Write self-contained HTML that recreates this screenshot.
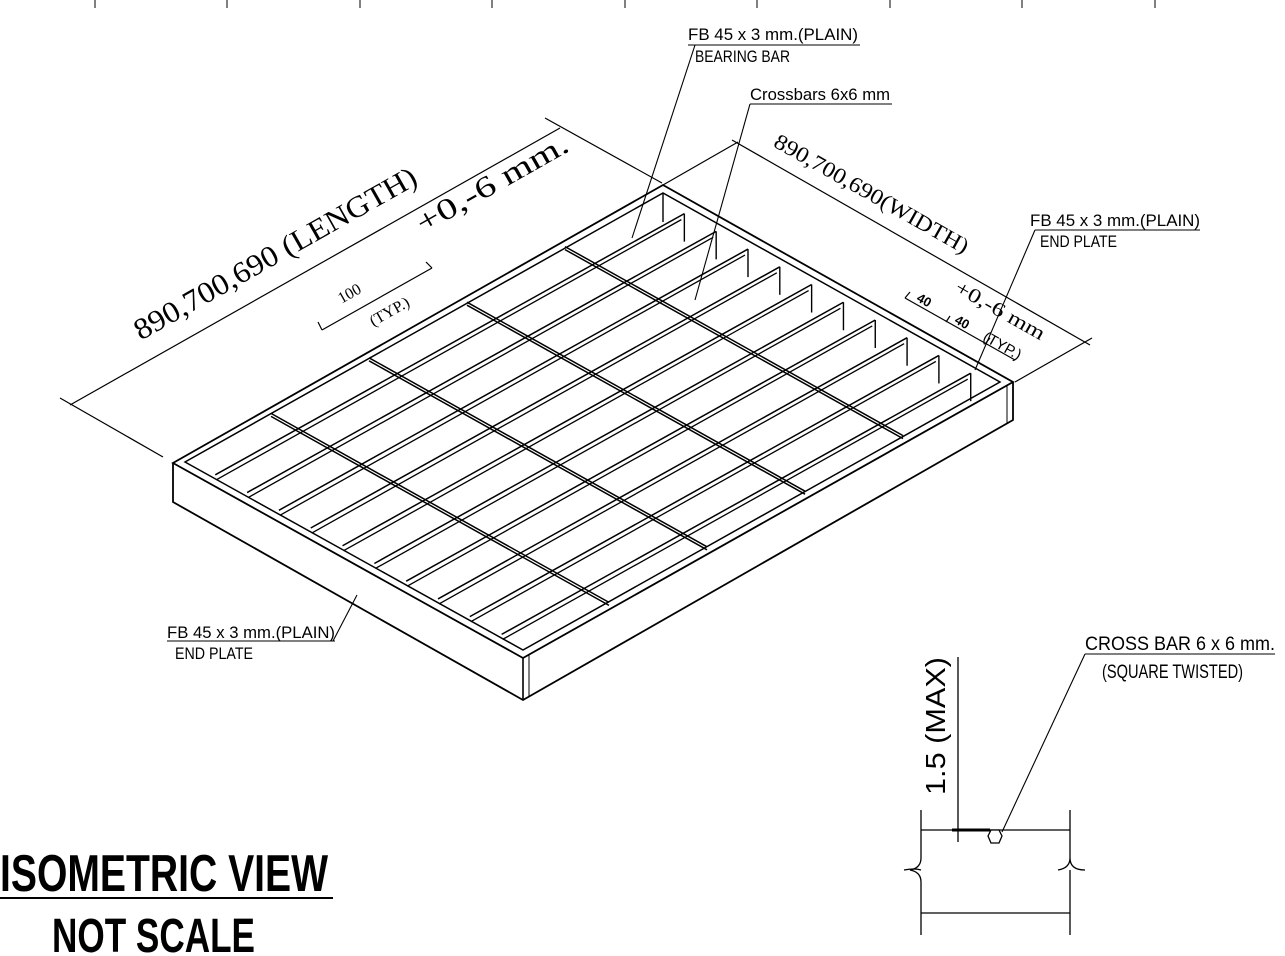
<!DOCTYPE html>
<html><head><meta charset="utf-8"><style>
html,body{margin:0;padding:0;background:#fff;}
svg{display:block;}
text{font-family:"Liberation Sans",sans-serif;fill:#000;stroke:none;}
.s{font-family:"Liberation Serif",serif;}
</style></head><body>
<svg id="d" width="1285" height="956" viewBox="0 0 1285 956" xmlns="http://www.w3.org/2000/svg" stroke="#000" fill="none" stroke-width="1.6">
<g id="ticks" stroke-width="1">
<line x1="95" y1="0" x2="95" y2="8"/><line x1="227" y1="0" x2="227" y2="8"/><line x1="360" y1="0" x2="360" y2="8"/><line x1="492" y1="0" x2="492" y2="8"/><line x1="625" y1="0" x2="625" y2="8"/><line x1="757" y1="0" x2="757" y2="8"/><line x1="890" y1="0" x2="890" y2="8"/><line x1="1022" y1="0" x2="1022" y2="8"/><line x1="1155" y1="0" x2="1155" y2="8"/>
</g>
<g id="grid"></g>
<polygon points="173,463 523,658 1013,382 663,185" stroke-width="1.8"/>
<polyline points="173,463 173,502 523,700 1013,420 1013,382" stroke-width="1.8"/>
<line x1="523" y1="658" x2="523" y2="700"/>
<line x1="529" y1="655" x2="529" y2="697" stroke-width="1"/>
<line x1="1007" y1="385" x2="1007" y2="423" stroke-width="1"/>
<polygon points="185,462 523,650 1000,382 663,193" stroke-width="1.5"/>
<line x1="663" y1="193" x2="663" y2="222" stroke-width="1.4"/>
<g stroke-width="1.2">
<line x1="60" y1="398" x2="163" y2="457"/>
<line x1="545" y1="118" x2="662" y2="183"/>
<line x1="70" y1="405" x2="560" y2="128"/>
<line x1="732" y1="140" x2="1090" y2="345"/>
<line x1="663" y1="185" x2="738" y2="142"/>
<line x1="1015" y1="382" x2="1092" y2="338"/>
<line x1="322" y1="330" x2="432" y2="268"/>
<line x1="322" y1="330" x2="318" y2="322"/><line x1="432" y1="268" x2="426" y2="262"/>
<line x1="905" y1="298" x2="1015" y2="360"/>
<line x1="905" y1="298" x2="910" y2="292"/>
<line x1="946" y1="322" x2="950" y2="316"/>
<line x1="985" y1="344" x2="990" y2="338"/>
</g>
<text class="s" font-size="30" transform="translate(280,262) rotate(-29.5)" text-anchor="middle" textLength="320" lengthAdjust="spacingAndGlyphs">890,700,690  (LENGTH)</text>
<text class="s" font-size="30" transform="translate(497,192) rotate(-29.5)" text-anchor="middle" textLength="170" lengthAdjust="spacingAndGlyphs">+0,-6  mm.</text>
<text class="s" font-size="22" transform="translate(868,200) rotate(29.5)" text-anchor="middle" textLength="220" lengthAdjust="spacingAndGlyphs">890,700,690(WIDTH)</text>
<text class="s" font-size="20" transform="translate(997,316) rotate(29.5)" text-anchor="middle" textLength="100" lengthAdjust="spacingAndGlyphs">+0,-6 mm</text>
<text class="s" font-size="16" transform="translate(352,298) rotate(-29.5)" text-anchor="middle">100</text>
<text class="s" font-size="16" transform="translate(392,316) rotate(-29.5)" text-anchor="middle">(TYP.)</text>
<text font-size="13" font-weight="bold" transform="translate(922,304) rotate(29.5)" text-anchor="middle">40</text>
<text font-size="13" font-weight="bold" transform="translate(960,326) rotate(29.5)" text-anchor="middle">40</text>
<text font-size="15" transform="translate(1000,350) rotate(29.5)" text-anchor="middle">(TYP.)</text>
<g stroke-width="1.1">
<line x1="688" y1="45" x2="860" y2="45"/><line x1="695" y1="45" x2="632" y2="238"/>
<line x1="750" y1="104" x2="892" y2="104"/><line x1="750" y1="104" x2="695" y2="300"/>
<line x1="1035" y1="230" x2="1200" y2="230"/><line x1="1035" y1="230" x2="975" y2="370"/>
<line x1="167" y1="641" x2="335" y2="641"/><line x1="333" y1="641" x2="357" y2="595"/>
<line x1="1085" y1="654" x2="1275" y2="654"/><line x1="1085" y1="654" x2="1002" y2="832"/>
</g>
<text font-size="17" x="688" y="40" textLength="170" lengthAdjust="spacingAndGlyphs">FB 45 x 3 mm.(PLAIN)</text>
<text font-size="17" x="695" y="62" textLength="95" lengthAdjust="spacingAndGlyphs">BEARING BAR</text>
<text font-size="17" x="750" y="100" textLength="140" lengthAdjust="spacingAndGlyphs">Crossbars 6x6 mm</text>
<text font-size="17" x="1030" y="226" textLength="170" lengthAdjust="spacingAndGlyphs">FB 45 x 3 mm.(PLAIN)</text>
<text font-size="17" x="1040" y="247" textLength="77" lengthAdjust="spacingAndGlyphs">END PLATE</text>
<text font-size="17" x="167" y="638" textLength="168" lengthAdjust="spacingAndGlyphs">FB 45 x 3 mm.(PLAIN)</text>
<text font-size="17" x="175" y="659" textLength="78" lengthAdjust="spacingAndGlyphs">END PLATE</text>
<text font-size="19" x="1085" y="650" textLength="190" lengthAdjust="spacingAndGlyphs">CROSS BAR 6 x 6 mm.</text>
<text font-size="19" x="1102" y="678" textLength="141" lengthAdjust="spacingAndGlyphs">(SQUARE TWISTED)</text>
<g stroke-width="1.3">
<line x1="958" y1="657" x2="958" y2="842"/>
<line x1="921" y1="830" x2="1070" y2="830"/>
<line x1="952" y1="830" x2="990" y2="830" stroke-width="3"/>
<polygon points="988,836 991,830 999,830 1002,836 999,843 991,843" fill="#fff"/>
<path d="M921,810 V858 Q921,868 910,870 Q921,872 921,882 V935"/>
<path d="M1070,810 V858 Q1070,868 1058,870 M1070,858 Q1070,870 1085,870 M1070,870 V935"/>
<path d="M904,870 Q915,868 921,870"/>
<line x1="921" y1="913" x2="1070" y2="913"/>
</g>
<text font-size="28" transform="translate(945,726) rotate(-90)" text-anchor="middle" textLength="138" lengthAdjust="spacingAndGlyphs">1.5  (MAX)</text>
<text x="0" y="891" font-size="52" font-weight="bold" textLength="328" lengthAdjust="spacingAndGlyphs">ISOMETRIC VIEW</text>
<line x1="0" y1="898" x2="333" y2="898" stroke-width="2"/>
<text x="52" y="952" font-size="48" font-weight="bold" textLength="203" lengthAdjust="spacingAndGlyphs">NOT SCALE</text>
</svg>
<script>
(function(){
var g=document.getElementById('grid'),ns='http://www.w3.org/2000/svg';
function ln(a,b,c,d,w){var e=document.createElementNS(ns,'line');e.setAttribute('x1',a);e.setAttribute('y1',b);e.setAttribute('x2',c);e.setAttribute('y2',d);if(w)e.setAttribute('stroke-width',w);g.appendChild(e);}
var L=[173,463],F=[523,658],R=[1013,382],B=[663,185];
var fr=[R[0]-F[0],R[1]-F[1]];
for(var k=1;k<=10;k++){var s=k/11;var P=[L[0]+s*(F[0]-L[0]),L[1]+s*(F[1]-L[1])];
var sx=P[0]+12*fr[0]/562,sy=P[1]+12*fr[1]/562,qx=P[0]+fr[0]-12*fr[0]/562,qy=P[1]+fr[1]-12*fr[1]/562+3;
ln(sx,sy,qx,qy,1.5);ln(sx+1,sy+5,qx-3,qy+6,1.3);ln(qx,qy,qx,qy+28,1.4);}
var lf=[F[0]-L[0],F[1]-L[1]];
for(var j=1;j<=4;j++){var t=j/5;var C=[L[0]+t*(B[0]-L[0])-6,L[1]+t*(B[1]-L[1])+3];
ln(C[0]+6,C[1]+3,C[0]+lf[0]-6,C[1]+lf[1]-3,1.5);ln(C[0]+6,C[1]+6,C[0]+lf[0]-6,C[1]+lf[1],1.5);}
})();
</script>
</body></html>
